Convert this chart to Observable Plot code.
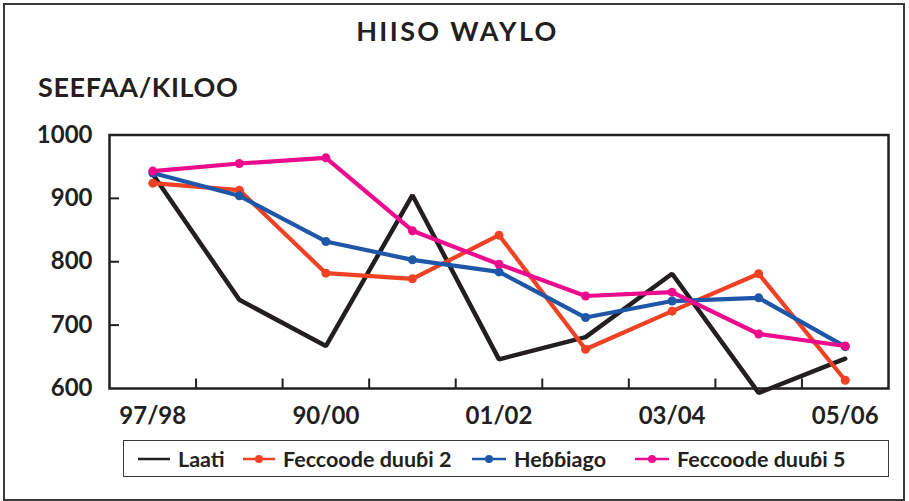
<!DOCTYPE html>
<html>
<head>
<meta charset="utf-8">
<script src="https://cdn.jsdelivr.net/npm/d3@7"></script>
<script src="https://cdn.jsdelivr.net/npm/@observablehq/plot@0.6"></script>
<style>
  html, body { margin: 0; padding: 0; background: #fff; }
  #wrap { position: relative; width: 909px; height: 501px; overflow: hidden; font-family: Lato, "Open Sans", sans-serif; font-weight: bold; color: #231f20; }
  #outer { position: absolute; left: 3px; top: 3px; width: 898px; height: 494px; border: 2px solid #3a3a3a; }
  #title { position: absolute; left: 3px; width: 909px; top: 15px; text-align: center; font-size: 27px; line-height: 1.2; letter-spacing: 2.4px; }
  #ylab { position: absolute; left: 38px; top: 71px; font-size: 27px; line-height: 1.2; letter-spacing: 0.6px; }
  #chart { position: absolute; left: 0; top: 100px; }
  #legend { position: absolute; left: 123px; top: 440px; width: 764px; height: 35px; border: 1.5px solid #3a3a3a; }
  .item { position: absolute; top: 0; height: 35px; display: flex; align-items: center; font-size: 21.5px; white-space: nowrap; }
  .item svg { display: block; margin-right: 8px; }
</style>
</head>
<body>
<div id="wrap">
  <div id="outer"></div>
  <div id="title">HIISO WAYLO</div>
  <div id="ylab">SEEFAA/KILOO</div>
  <div id="chart"></div>
  <div id="legend"></div>
</div>
<script>
const categories = ["97/98", "98/99", "90/00", "00/01", "01/02", "02/03", "03/04", "04/05", "05/06"];
const labeledCategories = ["97/98", "90/00", "01/02", "03/04", "05/06"];
const seriesNames = ["Laati", "Feccoode duuɓi 2", "Heɓɓiago", "Feccoode duuɓi 5"];
const laati = [938, 740, 667, 905, 646, 681, 781, 593, 647];
const feccoode2 = [924, 913, 782, 773, 842, 662, 722, 781, 613];
const hebbiago = [940, 904, 832, 803, 784, 712, 738, 743, 666];
const feccoode5 = [943, 955, 964, 849, 796, 746, 752, 686, 667];
const yTicks = [600, 700, 800, 900, 1000];
const colors = ["#231f20", "#ef4123", "#1f57a8", "#ec0b8d"];
const hasDots = [false, true, true, true];

const seriesValues = [laati, feccoode2, hebbiago, feccoode5];
const rows = [];
seriesNames.forEach((s, si) => seriesValues[si].forEach((v, i) => rows.push({series: s, i, value: v})));
const boundaries = categories.slice(1).map((c, i) => ({i: i + 0.5}));
const labelIdx = labeledCategories.map(c => categories.indexOf(c));
const xScaleSpan = categories.length;
const tickLenX = 10 / (779 / xScaleSpan);

const marks = [
  Plot.ruleY(yTicks.slice(1, -1), {x1: -0.5, x2: -0.5 + tickLenX, stroke: "#231f20", strokeWidth: 2}),
  Plot.ruleX(boundaries, {x: "i", y1: 600, y2: 615, stroke: "#231f20", strokeWidth: 2}),
  Plot.axisY({ticks: yTicks, tickFormat: d => String(d), tickSize: 0, tickPadding: 17, label: null, fill: "#231f20"}),
  Plot.axisX({ticks: labelIdx, tickFormat: i => categories[i], tickSize: 0, tickPadding: 18.5, label: null, fill: "#231f20"})
];
seriesNames.forEach((s, si) => {
  const d = rows.filter(r => r.series === s);
  marks.push(Plot.line(d, {x: "i", y: "value", stroke: colors[si], strokeWidth: si === 0 ? 4.5 : 4.2, strokeLinejoin: si === 0 ? "miter" : "round"}));
  if (hasDots[si]) marks.push(Plot.dot(d, {x: "i", y: "value", r: 4.5, fill: colors[si]}));
});
marks.push(Plot.frame({stroke: "#231f20", strokeWidth: 2.5}));

const plot = Plot.plot({
  width: 909,
  height: 340,
  marginLeft: 109,
  marginRight: 21,
  marginTop: 34.5,
  marginBottom: 52,
  x: {type: "linear", domain: [-0.5, categories.length - 0.5], axis: null},
  y: {domain: [600, 1000], axis: null},
  style: {fontFamily: "Lato, 'Open Sans', sans-serif", fontWeight: "bold", fontSize: "24px", color: "#231f20", background: "transparent", overflow: "visible"},
  marks
});
document.getElementById("chart").appendChild(plot);

const legendPos = [{sw: 14, w: 32}, {sw: 119, w: 32}, {sw: 348, w: 34}, {sw: 511, w: 34}];
const legend = document.getElementById("legend");
seriesNames.forEach((s, si) => {
  const item = document.createElement("div");
  item.className = "item";
  item.style.left = legendPos[si].sw + "px";
  const w = legendPos[si].w;
  const svg = d3.create("svg").attr("width", w).attr("height", 12);
  svg.append("line").attr("x1", 0).attr("x2", w).attr("y1", 6).attr("y2", 6)
    .attr("stroke", colors[si]).attr("stroke-width", 2.5);
  if (hasDots[si]) svg.append("circle").attr("cx", w / 2).attr("cy", 6).attr("r", 4).attr("fill", colors[si]);
  item.appendChild(svg.node());
  const t = document.createElement("span");
  t.textContent = s;
  item.appendChild(t);
  legend.appendChild(item);
});
</script>
</body>
</html>
